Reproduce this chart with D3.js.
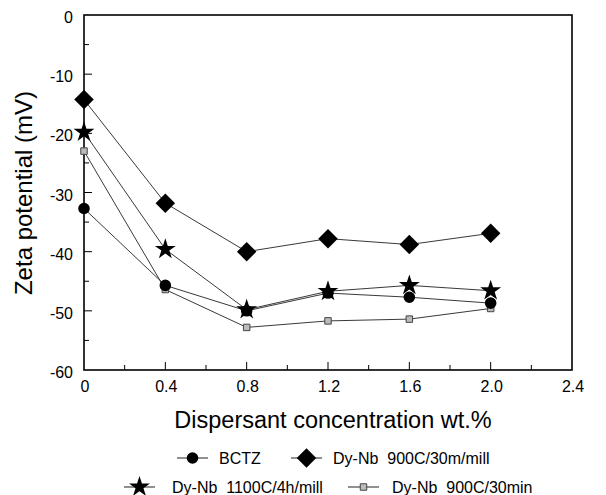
<!DOCTYPE html>
<html>
<head>
<meta charset="utf-8">
<script src="https://cdn.jsdelivr.net/npm/d3@7"></script>
<style>
  body { margin: 0; background: #fff; }
  text { font-family: "Liberation Sans", Arial, sans-serif; fill: #000; }
</style>
</head>
<body>
<div id="chart"></div>
<script>
// data
var conc = [0, 0.4, 0.8, 1.2, 1.6, 2.0];
var bctz     = [-32.7, -45.7, -50, -47, -47.7, -48.7];
var dy900m   = [-14.3, -31.8, -40, -37.8, -38.8, -36.9];
var dy1100   = [-19.8, -39.6, -49.8, -46.7, -45.7, -46.6];
var dy900min = [-23.0, -46.4, -52.8, -51.7, -51.4, -49.6];
var xTicks = [0, 0.4, 0.8, 1.2, 1.6, 2.0, 2.4];
var xTickLabels = ['0', '0.4', '0.8', '1.2', '1.6', '2.0', '2.4'];
var yTicks = [0, -10, -20, -30, -40, -50, -60];

var W = 606, H = 495;
// plot box (window.top is reserved, so plain names are avoided)
var pL = 84, pR = 572, pT = 15, pB = 370;

var svg = d3.select('#chart').append('svg')
  .attr('width', W).attr('height', H);

var x = d3.scaleLinear().domain([0, 2.4]).range([pL, pR]);
var y = d3.scaleLinear().domain([-60, 0]).range([pB, pT]);

// frame
svg.append('rect')
  .attr('x', pL).attr('y', pT)
  .attr('width', pR - pL).attr('height', pB - pT)
  .attr('fill', 'none').attr('stroke', '#000').attr('stroke-width', 1.6);

// x axis ticks (inward) and labels
var xMinor = d3.range(1, 12).map(function(i) { return i * 0.2; });
svg.append('g').selectAll('line').data(xMinor).enter().append('line')
  .attr('x1', function(d) { return x(d); }).attr('x2', function(d) { return x(d); })
  .attr('y1', pB).attr('y2', function(d, i) { return i % 2 ? pB - 8 : pB - 5; })
  .attr('stroke', '#000').attr('stroke-width', 1);
svg.append('g').selectAll('text').data(xTicks).enter().append('text')
  .attr('x', function(d) { return x(d) + 1; }).attr('y', pB + 22)
  .attr('text-anchor', 'middle').attr('font-size', 16)
  .text(function(d, i) { return xTickLabels[i]; });

// y axis ticks (inward) and labels
var yMinor = d3.range(-55, 0, 5);
svg.append('g').selectAll('line').data(yMinor).enter().append('line')
  .attr('x1', pL).attr('x2', function(d) { return d % 10 === 0 ? pL + 8 : pL + 5; })
  .attr('y1', function(d) { return y(d); }).attr('y2', function(d) { return y(d); })
  .attr('stroke', '#000').attr('stroke-width', 1);
svg.append('g').selectAll('text').data(yTicks).enter().append('text')
  .attr('x', pL - 11).attr('y', function(d) { return y(d) + 8; })
  .attr('text-anchor', 'end').attr('font-size', 16)
  .text(function(d) { return d; });

// axis titles
svg.append('text')
  .attr('transform', 'translate(32,193) rotate(-90)')
  .attr('text-anchor', 'middle').attr('font-size', 24)
  .text('Zeta potential (mV)');
svg.append('text')
  .attr('x', 333).attr('y', 428)
  .attr('text-anchor', 'middle').attr('font-size', 23.5)
  .text('Dispersant concentration wt.%');

// markers
var sym = {
  circle:  { type: d3.symbolCircle,  size: 105, fill: '#000', stroke: 'none' },
  diamond: { type: d3.symbolSquare,  size: 190, fill: '#000', stroke: 'none', rot: 45 },
  star:    { type: d3.symbolStar,    size: 135, fill: '#000', stroke: 'none' },
  square:  { type: d3.symbolSquare,  size: 42,  fill: '#bbb', stroke: '#444' }
};

var series = [
  { name: 'BCTZ', values: bctz, marker: 'circle' },
  { name: 'Dy-Nb  900C/30m/mill', values: dy900m, marker: 'diamond' },
  { name: 'Dy-Nb  1100C/4h/mill', values: dy1100, marker: 'star' },
  { name: 'Dy-Nb  900C/30min', values: dy900min, marker: 'square' }
];

function drawMarker(g, m, px, py) {
  var s = sym[m];
  g.append('path')
    .attr('d', d3.symbol().type(s.type).size(s.size)())
    .attr('transform', 'translate(' + px + ',' + py + ')' + (s.rot ? ' rotate(' + s.rot + ')' : ''))
    .attr('fill', s.fill)
    .attr('stroke', s.stroke)
    .attr('stroke-width', 1);
}

var line = d3.line()
  .x(function(d, i) { return x(conc[i]); })
  .y(function(d) { return y(d); });

// square series first, stars last (they hide the circles at 0.8 and 1.2)
var order = [3, 0, 1, 2];
order.forEach(function(k) {
  var s = series[k];
  svg.append('path').datum(s.values)
    .attr('d', line)
    .attr('fill', 'none').attr('stroke', '#222').attr('stroke-width', 0.9);
});
order.forEach(function(k) {
  var s = series[k];
  var g = svg.append('g');
  s.values.forEach(function(v, i) { drawMarker(g, s.marker, x(conc[i]), y(v)); });
});

// legend
var legendPos = [
  { lx: 177, ly: 458, tx: 219 },
  { lx: 291, ly: 458, tx: 333 },
  { lx: 124, ly: 487, tx: 172 },
  { lx: 348, ly: 487, tx: 392 }
];
series.forEach(function(s, i) {
  var p = legendPos[i];
  var g = svg.append('g');
  g.append('line')
    .attr('x1', p.lx).attr('x2', p.lx + 31)
    .attr('y1', p.ly).attr('y2', p.ly)
    .attr('stroke', '#222').attr('stroke-width', 1);
  drawMarker(g, s.marker, p.lx + 15.5, p.ly);
  g.append('text')
    .attr('x', p.tx).attr('y', p.ly + 6)
    .attr('font-size', 16)
    .style('white-space', 'pre')
    .text(s.name);
});
</script>
</body>
</html>
